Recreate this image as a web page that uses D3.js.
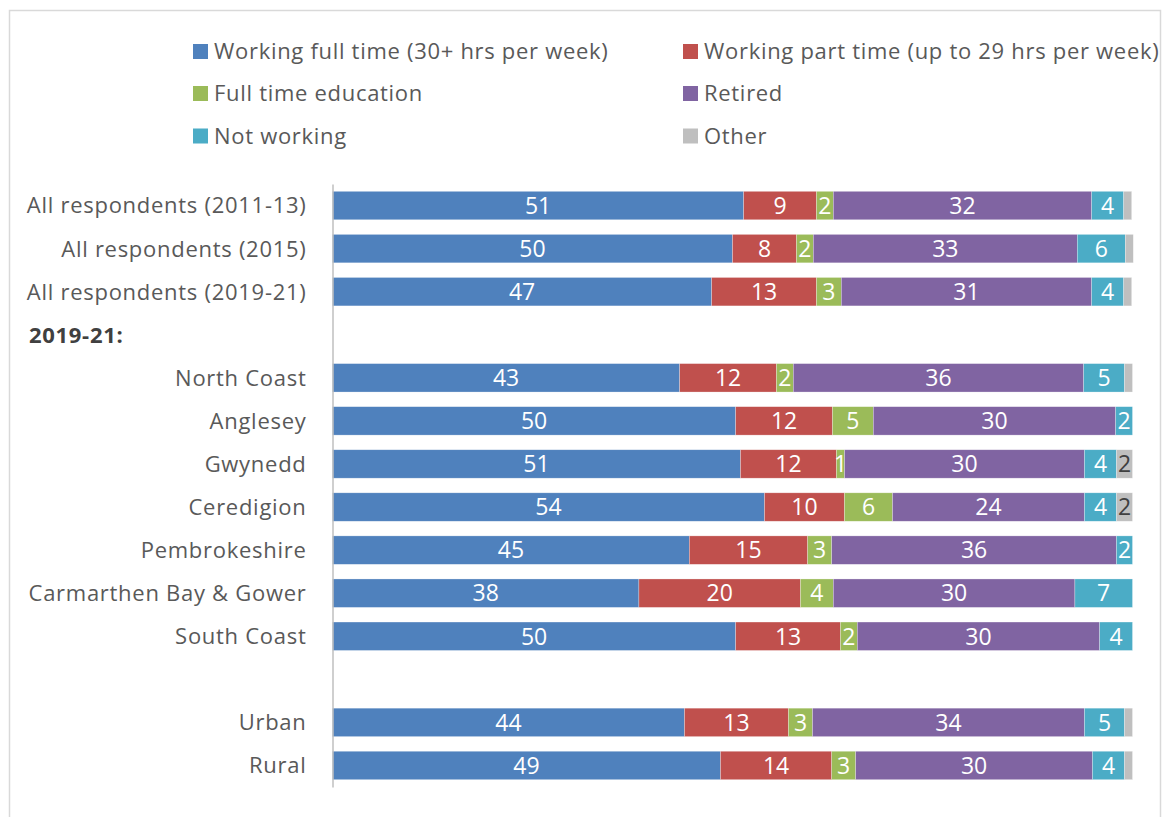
<!DOCTYPE html>
<html><head><meta charset="utf-8">
<script src="https://cdn.jsdelivr.net/npm/d3@7"></script>
<style>
html,body{margin:0;padding:0;background:#fff;}
svg{display:block;font-family:"Open Sans",sans-serif;}
</style></head>
<body><svg id="chart" width="1162" height="817"></svg>
<script>
const categories = ["All respondents (2011-13)","All respondents (2015)","All respondents (2019-21)","2019-21:","North Coast","Anglesey","Gwynedd","Ceredigion","Pembrokeshire","Carmarthen Bay & Gower","South Coast"," ","Urban","Rural"];
const seriesNames = ["Working full time (30+ hrs per week)","Working part time (up to 29 hrs per week)","Full time education","Retired","Not working","Other"];
const seriesColors = ["#4F81BD","#C0504D","#9BBB59","#8064A2","#4BACC6","#BFBFBF"];
const fullTime  = [51.4,50.0,47.4,null,43.4,50.4,51.0,54.0,44.6,38.3,50.4,null,44.0,48.5];
const partTime  = [9.1,8.0,13.1,null,12.1,12.1,12.0,10.0,14.8,20.2,13.1,null,13.0,13.9];
const education = [2.1,2.1,3.1,null,2.1,5.1,1.0,6.0,3.0,4.1,2.1,null,3.0,3.0];
const retired   = [32.3,33.0,31.3,null,36.3,30.3,30.0,24.0,35.6,30.2,30.3,null,34.0,29.6];
const notWorking= [4.0,6.0,4.0,null,5.1,2.1,4.0,4.0,2.0,7.2,4.1,null,5.0,4.0];
const other     = [1.0,1.0,1.0,null,1.0,0,2.0,2.0,0,0,0,null,1.0,1.0];
const seriesValues = [fullTime,partTime,education,retired,notWorking,other];

const svg = d3.select("#chart");
// outer border
svg.append("rect").attr("x",9.5).attr("y",10.5).attr("width",1151).attr("height",830)
  .attr("fill","none").attr("stroke","#D9D9D9").attr("stroke-width",1.5);

const x = d3.scaleLinear().domain([0,100]).range([332.5,1132.5]);
const y = d3.scaleBand().domain(categories).range([184,787]).paddingInner(0.34).paddingOuter(0.17);

const rows = categories.map((c,i)=>{
  let acc = 0;
  const segs = [];
  if (fullTime[i] == null) return {c, segs};
  seriesValues.forEach((arr,s)=>{
    const v = arr[i];
    segs.push({s, v, x0: acc, x1: acc + v});
    acc += v;
  });
  return {c, segs};
});

const g = svg.append("g");
rows.forEach(r=>{
  r.segs.filter(d=>d.v>0).forEach(d=>{
    g.append("rect")
      .attr("x", x(d.x0)).attr("y", y(r.c))
      .attr("width", x(d.x1)-x(d.x0)).attr("height", y.bandwidth())
      .attr("fill", seriesColors[d.s])
      .attr("stroke","#ffffff").attr("stroke-opacity",0.45).attr("stroke-width",0.6);
  });
  r.segs.filter(d=>d.v>=0.95 && !(d.s===5 && d.v<1.5)).forEach(d=>{
    g.append("text")
      .attr("x", (x(d.x0)+x(d.x1))/2).attr("y", y(r.c)+y.bandwidth()/2)
      .attr("dy","0.36em").attr("text-anchor","middle")
      .attr("font-size",23).attr("fill", d.s===5 ? "#404040" : "#ffffff")
      .text(Math.round(d.v));
  });
});

// y axis
const axis = svg.append("g").attr("transform","translate(332.5,0)")
  .call(d3.axisLeft(y).tickSize(0).tickPadding(26));
axis.select(".domain").attr("stroke","#BFBFBF").attr("stroke-width",1.5);
axis.selectAll(".tick text").attr("font-size",22).attr("letter-spacing","0.72px").attr("fill","#595959")
  .attr("font-family","'Open Sans',sans-serif").attr("dy","0.36em");
axis.selectAll(".tick text").filter(d=>d==="2019-21:")
  .attr("font-weight","bold").attr("text-anchor","start").attr("x",29-332.5)
  .attr("font-size",22).attr("letter-spacing","0.7px").attr("fill","#404040");

// legend
const legCols = [193, 683];
const legRows = [51.5, 93.5, 136];
seriesNames.forEach((n,i)=>{
  const lx = legCols[i%2], ly = legRows[Math.floor(i/2)];
  svg.append("rect").attr("x",lx).attr("y",ly-7.5).attr("width",15).attr("height",15).attr("fill",seriesColors[i]);
  svg.append("text").attr("x",lx+21).attr("y",ly).attr("dy","0.36em")
    .attr("font-size",22).attr("letter-spacing","0.7px").attr("fill","#595959").text(n);
});
</script></body></html>
